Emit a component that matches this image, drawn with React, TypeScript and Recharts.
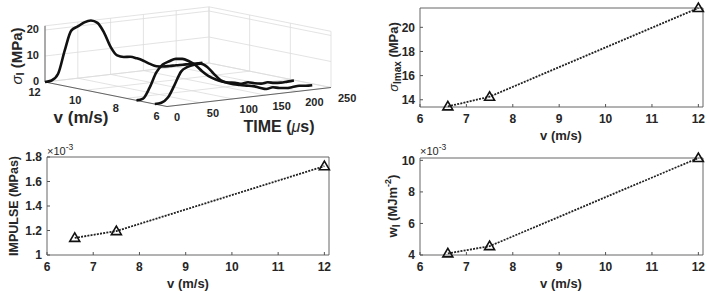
import React from 'react';
import { LineChart, Line, XAxis, YAxis, ReferenceLine, ReferenceDot, ReferenceArea } from 'recharts';

const FONT = '"Liberation Sans", Arial, Helvetica, sans-serif';
const INK = '#262626';
const GRID = '#dcdcdc';

// impact velocity series (m/s)
const speeds = [6.6, 7.5, 12];
const peakStress = [13.45, 14.25, 21.6]; // MPa
const impulse = [1.14, 1.195, 1.725]; // x1e-3 MPa s
const energy = [4.1, 4.56, 10.15]; // x1e-3 MJ m^-2
const speedTicks = [6, 7, 8, 9, 10, 11, 12];

// stress histories used in the waterfall plot
const timeUs = [0, 10, 20, 30, 40, 50, 60, 70, 80, 90, 100, 110, 120, 130, 140, 150, 160, 170, 180, 190, 200, 210, 220, 230, 240];
const stress12 = [0, 0.3, 2.6, 11.2, 18.6, 19.9, 21.2, 21.6, 20.4, 16.4, 10.6, 7.0, 6.1, 5.9, 5.0, 3.8, 2.3, 1.1, 0.7, 0.6, 0.6, 0.5, 0.5, 0.4, 0.4];
const stress75 = [0, 0.4, 4.3, 9.8, 12.6, 13.6, 14.2, 13.9, 12.7, 10.9, 8.3, 6.1, 4.6, 3.5, 2.8, 2.4, 1.7, 2.0, 1.3, 0.9, 1.1, 0.6, 0.4, 0.5, 0.6];
const stress66 = [0, 0.2, 1.9, 6.4, 11.3, 12.8, 13.4, 13.5, 11.9, 9.0, 6.3, 5.0, 4.1, 3.5, 3.0, 2.5, 1.6, 0.8, 1.2, 0.6, 0.3, 0.4, 0.6, 0.3, 0.2];

const timeTicks = [0, 50, 100, 150, 200, 250];
const depthTicks = [6, 8, 10, 12];
const stressTicks = [0, 10, 20];
const stressTop = 21.6;

// oblique projection of (time, velocity, stress) onto the panel plane
const proj = (t: number, v: number, z: number) => ({
  x: 45 + (t / 250) * 164 + ((12 - v) / 6) * 122,
  y: 82 - (t / 250) * 19 + ((12 - v) / 6) * 24.5 - (z / 20) * 52,
});

const seg = (a: { x: number; y: number }, b: { x: number; y: number }) => [a, b];

const waterfall = [
  { v: 12, s: stress12 },
  { v: 7.5, s: stress75 },
  { v: 6.6, s: stress66 },
].map(({ v, s }) => ({
  v,
  pts: timeUs.map((t, i) => {
    const p = proj(t, v, s[i]);
    return { px: p.x, py: p.y };
  }),
}));

const gridSegs = [
  ...timeTicks.map((t) => seg(proj(t, 12, 0), proj(t, 12, stressTop))),
  ...stressTicks.map((z) => seg(proj(0, 12, z), proj(250, 12, z))),
  ...depthTicks.map((v) => seg(proj(250, v, 0), proj(250, v, stressTop))),
  ...stressTicks.map((z) => seg(proj(250, 12, z), proj(250, 6, z))),
  ...timeTicks.map((t) => seg(proj(t, 12, 0), proj(t, 6, 0))),
  ...depthTicks.map((v) => seg(proj(0, v, 0), proj(250, v, 0))),
  seg(proj(0, 12, stressTop), proj(250, 12, stressTop)),
  seg(proj(250, 12, stressTop), proj(250, 6, stressTop)),
];

const axisSegs = [
  seg(proj(0, 12, 0), proj(0, 12, stressTop)),
  seg(proj(0, 12, 0), proj(0, 6, 0)),
  seg(proj(0, 6, 0), proj(250, 6, 0)),
];

const tickLabels = [
  ...stressTicks.map((z) => ({ p: proj(0, 12, z), text: String(z), dx: -6, dy: -1, anchor: 'end' })),
  ...depthTicks.map((v) => ({ p: proj(0, v, 0), text: String(v), dx: -10.5, dy: 9.5, anchor: 'middle' })),
  ...timeTicks.map((t) => ({ p: proj(t, 6, 0), text: String(t), dx: 7, dy: 10.5, anchor: 'start' })),
];

function Waterfall() {
  return (
    <div style={{ position: 'absolute', left: 0, top: 0 }}>
      <LineChart width={360} height={140} margin={{ top: 0, right: 0, bottom: 0, left: 0 }}>
        <XAxis type="number" dataKey="px" domain={[0, 360]} allowDataOverflow hide />
        <YAxis type="number" domain={[0, 140]} reversed allowDataOverflow hide />
        {gridSegs.map((s, i) => (
          <ReferenceLine key={`g${i}`} segment={s} stroke={GRID} strokeWidth={0.8} ifOverflow="visible" />
        ))}
        {axisSegs.map((s, i) => (
          <ReferenceLine key={`a${i}`} segment={s} stroke="#555" strokeWidth={0.9} ifOverflow="visible" />
        ))}
        {tickLabels.map((l, i) => (
          <ReferenceDot
            key={`t${i}`}
            x={l.p.x}
            y={l.p.y}
            ifOverflow="visible"
            shape={(p: any) => (
              <text
                x={p.cx + l.dx}
                y={p.cy + l.dy}
                textAnchor={l.anchor}
                dominantBaseline="central"
                fontSize={11}
                fontWeight={700}
                fill={INK}
                fontFamily={FONT}
              >
                {l.text}
              </text>
            )}
          />
        ))}
        {waterfall.map((c) => (
          <Line
            key={c.v}
            data={c.pts}
            dataKey="py"
            type="monotone"
            stroke="#111"
            strokeWidth={2.6}
            dot={false}
            activeDot={false}
            isAnimationActive={false}
          />
        ))}
      </LineChart>
    </div>
  );
}

const Triangle = (props: any) => {
  const { cx, cy, index } = props;
  if (cx == null || cy == null) return null;
  return (
    <path
      key={`tri${index}`}
      d={`M${cx - 5},${cy + 3.5} L${cx + 5},${cy + 3.5} L${cx},${cy - 5} Z`}
      fill="none"
      stroke="#111"
      strokeWidth={1.6}
      strokeLinejoin="miter"
    />
  );
};

interface PanelProps {
  left: number;
  top: number;
  width: number;
  height: number;
  values: number[];
  yDomain: [number, number];
  yTicks: number[];
}

function SpeedPanel({ left, top, width, height, values, yDomain, yTicks }: PanelProps) {
  const data = speeds.map((v, i) => ({ v, y: values[i] }));
  const padL = 60;
  const padT = 12;
  const padR = 8;
  const padB = 40;
  const tickStyle = { fontSize: 12, fontWeight: 700, fill: INK, fontFamily: FONT };
  return (
    <div style={{ position: 'absolute', left: left - padL, top: top - padT }}>
      <LineChart
        width={width + padL + padR}
        height={height + padT + padB}
        data={data}
        margin={{ top: padT, right: padR, bottom: 0, left: 0 }}
      >
        <ReferenceArea
          x1={6}
          x2={12.1}
          y1={yDomain[0]}
          y2={yDomain[1]}
          fill="none"
          stroke="#555"
          strokeWidth={0.9}
          ifOverflow="visible"
        />
        <XAxis
          type="number"
          dataKey="v"
          domain={[6, 12.1]}
          ticks={speedTicks}
          height={padB}
          axisLine={false}
          tickSize={-3}
          tickMargin={10}
          tickLine={{ stroke: '#555' }}
          tick={tickStyle}
        />
        <YAxis
          type="number"
          domain={yDomain}
          ticks={yTicks}
          width={padL}
          axisLine={false}
          tickSize={-3}
          tickMargin={8}
          tickLine={{ stroke: '#555' }}
          tick={tickStyle}
        />
        <Line
          type="linear"
          dataKey="y"
          stroke="#222"
          strokeWidth={1.8}
          strokeDasharray="2 1.2"
          dot={Triangle}
          activeDot={false}
          isAnimationActive={false}
        />
      </LineChart>
    </div>
  );
}

function Titles() {
  const bold = { fontFamily: FONT, fontWeight: 700, fill: INK } as const;
  return (
    <svg width={709} height={291} style={{ position: 'absolute', left: 0, top: 0, pointerEvents: 'none' }}>
      {/* waterfall axis titles */}
      <text transform="translate(16,56) rotate(-90)" textAnchor="middle" dominantBaseline="central" fontSize={15} {...bold}>
        <tspan fontStyle="italic" fontWeight={400}>σ</tspan>
        <tspan dy={4} fontSize={11}>I</tspan>
        <tspan dy={-4}> (MPa)</tspan>
      </text>
      <text x={81} y={117} textAnchor="middle" dominantBaseline="central" fontSize={17} {...bold}>
        v (m/s)
      </text>
      <text x={279} y={126} textAnchor="middle" dominantBaseline="central" fontSize={16} {...bold}>
        TIME (<tspan fontStyle="italic" fontWeight={400}>μ</tspan>s)
      </text>

      {/* peak stress */}
      <text transform="translate(393,57) rotate(-90)" textAnchor="middle" dominantBaseline="central" fontSize={13} {...bold}>
        <tspan fontStyle="italic" fontWeight={400}>σ</tspan>
        <tspan dy={4} fontSize={10}>Imax</tspan>
        <tspan dy={-4}> (MPa)</tspan>
      </text>
      <text x={561} y={135} textAnchor="middle" dominantBaseline="central" fontSize={13} {...bold}>
        v (m/s)
      </text>

      {/* impulse */}
      <text transform="translate(14,206) rotate(-90)" textAnchor="middle" dominantBaseline="central" fontSize={12.5} {...bold}>
        IMPULSE (MPas)
      </text>
      <text x={188} y={283} textAnchor="middle" dominantBaseline="central" fontSize={13} {...bold}>
        v (m/s)
      </text>
      <text x={47} y={151} fontSize={11} fill={INK} fontFamily={FONT} dominantBaseline="central">
        ×10<tspan dy={-4} fontSize={8.5}>-3</tspan>
      </text>

      {/* energy */}
      <text transform="translate(392,206) rotate(-90)" textAnchor="middle" dominantBaseline="central" fontSize={13} {...bold}>
        w<tspan dy={4} fontSize={10}>I</tspan>
        <tspan dy={-4}> (MJm</tspan>
        <tspan dy={-4} fontSize={9}>-2</tspan>
        <tspan dy={4}>)</tspan>
      </text>
      <text x={561} y={283} textAnchor="middle" dominantBaseline="central" fontSize={13} {...bold}>
        v (m/s)
      </text>
      <text x={420} y={151} fontSize={11} fill={INK} fontFamily={FONT} dominantBaseline="central">
        ×10<tspan dy={-4} fontSize={8.5}>-3</tspan>
      </text>
    </svg>
  );
}

export default function App() {
  return (
    <div style={{ position: 'absolute', left: 0, top: 0, width: 709, height: 291, background: '#fff', overflow: 'hidden' }}>
      <Waterfall />
      <SpeedPanel left={420} top={8} width={283} height={99} values={peakStress} yDomain={[13.4, 21.6]} yTicks={[14, 16, 18, 20]} />
      <SpeedPanel left={47} top={157} width={282} height={98} values={impulse} yDomain={[1, 1.8]} yTicks={[1, 1.2, 1.4, 1.6, 1.8]} />
      <SpeedPanel left={420} top={158} width={283} height={97} values={energy} yDomain={[4, 10.15]} yTicks={[4, 6, 8, 10]} />
      <Titles />
    </div>
  );
}
